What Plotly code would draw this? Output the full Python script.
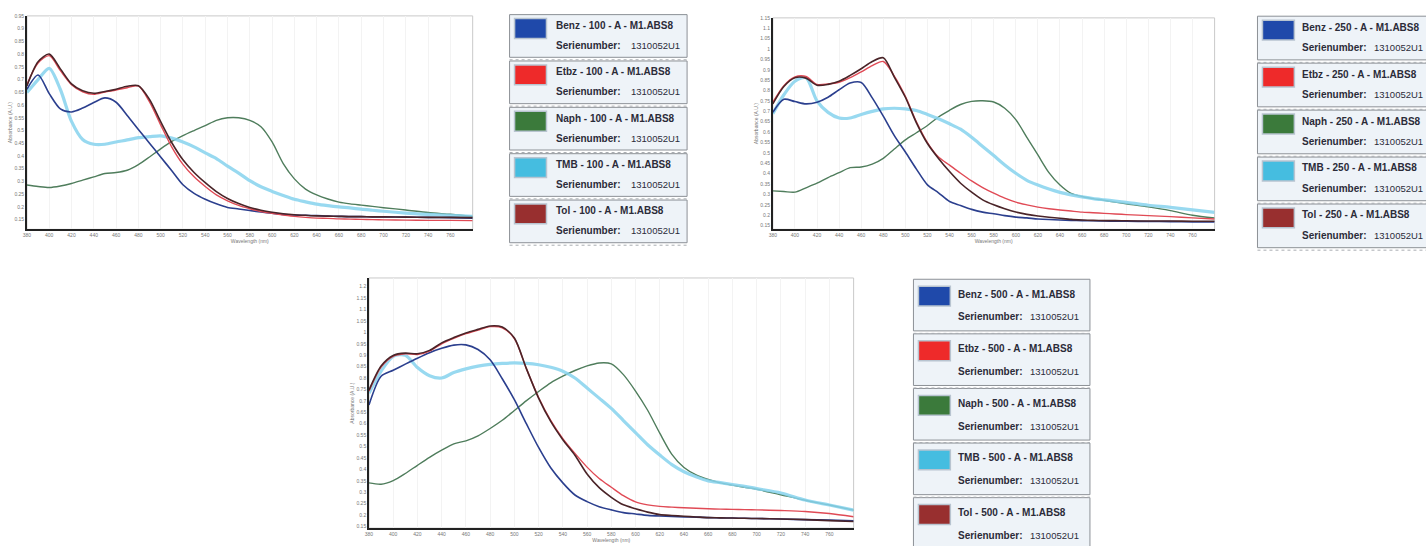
import plotly.graph_objects as go

# ---------------- data ----------------
wavelength = [380, 390, 400, 410, 420, 430, 440, 450, 460, 470, 480, 490, 500, 510, 520,
              530, 540, 550, 560, 570, 580, 590, 600, 610, 620, 630, 640, 650, 660, 670,
              680, 690, 700, 720, 740, 760, 780]

substances = ["Benz", "Etbz", "Naph", "TMB", "Tol"]
concentrations = ["100", "250", "500"]
serial_number = "1310052U1"

benz_100 = [0.662, 0.718, 0.645, 0.585, 0.573, 0.588, 0.61, 0.628, 0.611, 0.559, 0.504, 0.45, 0.396, 0.342, 0.287,
            0.253, 0.23, 0.212, 0.198, 0.192, 0.186, 0.18, 0.175, 0.17, 0.168, 0.167, 0.166, 0.164, 0.163, 0.162,
            0.162, 0.161, 0.161, 0.160, 0.159, 0.158, 0.156]
etbz_100 = [0.681, 0.765, 0.794, 0.735, 0.68, 0.652, 0.642, 0.651, 0.659, 0.668, 0.675, 0.612, 0.522, 0.435, 0.367,
            0.318, 0.28, 0.247, 0.224, 0.206, 0.193, 0.182, 0.175, 0.168, 0.163, 0.159, 0.156, 0.155, 0.153, 0.152,
            0.151, 0.150, 0.149, 0.148, 0.147, 0.147, 0.146]
naph_100 = [0.286, 0.28, 0.276, 0.282, 0.292, 0.305, 0.318, 0.331, 0.335, 0.344, 0.366, 0.396, 0.428, 0.457, 0.48,
            0.5, 0.519, 0.54, 0.55, 0.55, 0.54, 0.515, 0.455, 0.37, 0.31, 0.27, 0.247, 0.231, 0.219, 0.212,
            0.207, 0.202, 0.197, 0.188, 0.178, 0.171, 0.163]
tmb_100 = [0.649, 0.7, 0.744, 0.661, 0.536, 0.465, 0.446, 0.446, 0.455, 0.463, 0.472, 0.476, 0.479, 0.47, 0.455,
           0.436, 0.412, 0.39, 0.36, 0.333, 0.303, 0.279, 0.261, 0.245, 0.23, 0.22, 0.211, 0.205, 0.2, 0.196,
           0.191, 0.187, 0.183, 0.176, 0.171, 0.167, 0.163]
tol_100 = [0.675, 0.77, 0.80, 0.742, 0.683, 0.656, 0.646, 0.653, 0.662, 0.674, 0.676, 0.622, 0.535, 0.452, 0.385,
           0.335, 0.295, 0.26, 0.233, 0.213, 0.198, 0.187, 0.179, 0.173, 0.169, 0.167, 0.165, 0.164, 0.163, 0.162,
           0.162, 0.161, 0.161, 0.160, 0.159, 0.159, 0.158]

benz_250 = [0.696, 0.758, 0.747, 0.736, 0.744, 0.768, 0.804, 0.836, 0.839, 0.765, 0.677, 0.583, 0.504, 0.422, 0.346,
            0.308, 0.266, 0.247, 0.228, 0.215, 0.207, 0.198, 0.191, 0.187, 0.182, 0.179, 0.177, 0.175, 0.174, 0.173,
            0.172, 0.171, 0.171, 0.170, 0.169, 0.168, 0.168]
etbz_250 = [0.744, 0.824, 0.866, 0.868, 0.83, 0.832, 0.84, 0.862, 0.89, 0.92, 0.94, 0.87, 0.772, 0.65, 0.55,
            0.48, 0.441, 0.402, 0.365, 0.333, 0.306, 0.282, 0.263, 0.25, 0.239, 0.231, 0.225, 0.22, 0.215, 0.212,
            0.209, 0.206, 0.203, 0.198, 0.193, 0.187, 0.182]
naph_250 = [0.317, 0.314, 0.311, 0.332, 0.354, 0.381, 0.405, 0.429, 0.432, 0.446, 0.474, 0.519, 0.563, 0.597, 0.632,
            0.673, 0.705, 0.733, 0.748, 0.751, 0.745, 0.715, 0.66, 0.575, 0.49, 0.405, 0.345, 0.305, 0.29, 0.28,
            0.272, 0.263, 0.255, 0.24, 0.222, 0.2, 0.187]
tmb_250 = [0.688, 0.78, 0.845, 0.862, 0.75, 0.695, 0.668, 0.668, 0.685, 0.70, 0.712, 0.715, 0.712, 0.704, 0.685,
           0.664, 0.64, 0.614, 0.575, 0.531, 0.487, 0.442, 0.402, 0.368, 0.345, 0.326, 0.31, 0.298, 0.288, 0.28,
           0.274, 0.268, 0.262, 0.248, 0.238, 0.226, 0.214]
tol_250 = [0.736, 0.82, 0.862, 0.86, 0.826, 0.83, 0.845, 0.873, 0.905, 0.94, 0.958, 0.865, 0.768, 0.645, 0.545,
           0.473, 0.41, 0.354, 0.311, 0.274, 0.25, 0.231, 0.215, 0.204, 0.196, 0.19, 0.185, 0.18, 0.177, 0.175,
           0.174, 0.174, 0.173, 0.172, 0.172, 0.171, 0.171]

benz_500 = [0.682, 0.808, 0.834, 0.861, 0.887, 0.911, 0.93, 0.944, 0.945, 0.925, 0.88, 0.797, 0.705, 0.599, 0.496,
            0.407, 0.341, 0.288, 0.259, 0.237, 0.223, 0.211, 0.205, 0.199, 0.196, 0.194, 0.192, 0.191, 0.189, 0.188,
            0.187, 0.186, 0.185, 0.183, 0.18, 0.178, 0.175]
etbz_500 = [0.742, 0.848, 0.895, 0.906, 0.903, 0.918, 0.95, 0.974, 0.994, 1.01, 1.025, 1.02, 0.973, 0.84, 0.715,
            0.615, 0.535, 0.47, 0.41, 0.36, 0.322, 0.285, 0.258, 0.245, 0.238, 0.235, 0.232, 0.23, 0.228, 0.226,
            0.225, 0.224, 0.223, 0.22, 0.216, 0.207, 0.193]
naph_500 = [0.341, 0.335, 0.351, 0.382, 0.418, 0.453, 0.484, 0.512, 0.525, 0.547, 0.579, 0.615, 0.658, 0.701, 0.741,
            0.779, 0.808, 0.833, 0.853, 0.866, 0.862, 0.815, 0.743, 0.659, 0.559, 0.466, 0.408, 0.376, 0.356, 0.341,
            0.331, 0.322, 0.313, 0.289, 0.265, 0.244, 0.222]
tmb_500 = [0.733, 0.83, 0.895, 0.9, 0.846, 0.81, 0.8, 0.824, 0.84, 0.852, 0.86, 0.864, 0.866, 0.864, 0.858,
           0.847, 0.83, 0.8, 0.756, 0.712, 0.667, 0.614, 0.561, 0.508, 0.463, 0.421, 0.39, 0.368, 0.35, 0.342,
           0.334, 0.326, 0.316, 0.297, 0.266, 0.244, 0.222]
tol_500 = [0.747, 0.853, 0.899, 0.909, 0.906, 0.921, 0.954, 0.977, 0.997, 1.013, 1.028, 1.023, 0.975, 0.84, 0.712,
           0.61, 0.53, 0.462, 0.38, 0.32, 0.278, 0.245, 0.228, 0.213, 0.202, 0.198, 0.195, 0.192, 0.189, 0.188,
           0.187, 0.186, 0.185, 0.183, 0.18, 0.176, 0.172]

x_tick_labels = [380, 400, 420, 440, 460, 480, 500, 520, 540, 560, 580, 600, 620, 640, 660, 680, 700, 720, 740, 760]
y_ticks_100 = [0.15, 0.2, 0.25, 0.3, 0.35, 0.4, 0.45, 0.5, 0.55, 0.6, 0.65, 0.7, 0.75, 0.8, 0.85, 0.9, 0.95]
y_ticks_250 = [0.15, 0.2, 0.25, 0.3, 0.35, 0.4, 0.45, 0.5, 0.55, 0.6, 0.65, 0.7, 0.75, 0.8, 0.85, 0.9, 0.95,
               1, 1.05, 1.1, 1.15]
y_ticks_500 = [0.15, 0.2, 0.25, 0.3, 0.35, 0.4, 0.45, 0.5, 0.55, 0.6, 0.65, 0.7, 0.75, 0.8, 0.85, 0.9, 0.95,
               1, 1.05, 1.1, 1.15, 1.2]

series = {
    "100": [benz_100, etbz_100, naph_100, tmb_100, tol_100],
    "250": [benz_250, etbz_250, naph_250, tmb_250, tol_250],
    "500": [benz_500, etbz_500, naph_500, tmb_500, tol_500],
}

# ---------------- styles ----------------
line_colors = ["#2b3f8e", "#e04a55", "#4f7d5c", "#86d3ee", "#4a2428"]
line_widths = [1.6, 1.4, 1.4, 3.2, 1.6]
swatch_colors = ["#1f49aa", "#ee2a2a", "#3b7a3b", "#45bde0", "#982f2f"]
draw_order = [2, 3, 0, 1, 4]

W, H = 1426, 546


def px(x):
    return x / W


def py(y):
    return 1 - y / H


panels = [
    # conc, axis suffix, x px range, y px range (top, bottom), y range, y ticks
    ("100", "", (23, 470), (13, 228), (0.112, 0.95), y_ticks_100),
    ("250", "2", (771, 1214), (15, 228), (0.132, 1.15), y_ticks_250),
    ("500", "3", (366, 852), (277, 529), (0.143, 1.238), y_ticks_500),
]

legends = [
    dict(l=507, r=685, top=11.7, step=46.7, h=43, name_dy=11, ser_dy=31, sw_x=512, tx=552, vx=627),
    dict(l=1257, r=1432, top=13.3, step=47.3, h=44, name_dy=11, ser_dy=32, sw_x=1262, tx=1300, vx=1372),
    dict(l=912, r=1089, top=278.3, step=55.0, h=52, name_dy=15, ser_dy=38, sw_x=917, tx=955, vx=1027),
]

fig = go.Figure()
layout = dict(
    width=W, height=H,
    margin=dict(l=0, r=0, t=0, b=0),
    paper_bgcolor="white",
    plot_bgcolor="white",
    showlegend=False,
    font=dict(family="Liberation Sans", color="#333"),
)
shapes = []
annotations = []

for (conc, sfx, (x0, x1), (yt, yb), yr, yticks) in panels:
    xa = "x" + sfx
    ya = "y" + sfx
    for i in draw_order:
        fig.add_trace(go.Scatter(
            x=wavelength, y=series[conc][i],
            mode="lines",
            line=dict(color=line_colors[i], width=line_widths[i], shape="spline", smoothing=0.8),
            opacity=0.85 if i == 3 else 1.0,
            name=f"{substances[i]} - {conc} - A - M1.ABS8",
            xaxis=xa, yaxis=ya,
        ))
    layout["xaxis" + sfx] = dict(
        domain=[px(x0), px(x1)], anchor=ya, range=[380, 780],
        tickvals=x_tick_labels, ticktext=[str(v) for v in x_tick_labels],
        tickfont=dict(size=5, color="#777"),
        showline=True, linecolor="#222", linewidth=1.6,
        showgrid=True, gridcolor="#f3f3f3", gridwidth=1,
        zeroline=False, ticks="",
        title=dict(text="Wavelength (nm)", font=dict(size=5, color="#777"), standoff=2),
    )
    layout["yaxis" + sfx] = dict(
        domain=[py(yb), py(yt)], anchor=xa, range=list(yr),
        tickvals=yticks, ticktext=[f"{v:g}" for v in yticks],
        tickfont=dict(size=5, color="#777"),
        showline=True, linecolor="#222", linewidth=1.6,
        showgrid=False, zeroline=False, ticks="",
        title=dict(text="Absorbance (A.U.)", font=dict(size=5, color="#777"), standoff=2),
    )
    shapes.append(dict(type="rect", xref=xa + " domain", yref=ya + " domain",
                       x0=0, x1=1, y0=0, y1=1, line=dict(color="#c9c9c9", width=1), layer="below"))

for conc, lg in zip(concentrations, legends):
    for i, sub in enumerate(substances):
        top = lg["top"] + i * lg["step"]
        bot = top + lg["h"]
        shapes.append(dict(type="rect", xref="paper", yref="paper",
                           x0=px(lg["l"]), x1=px(lg["r"]), y0=py(bot), y1=py(top),
                           fillcolor="#eef3f8", line=dict(color="#8c9096", width=1), layer="below"))
        shapes.append(dict(type="line", xref="paper", yref="paper",
                           x0=px(lg["l"]), x1=px(lg["r"]), y0=py(bot + 2.5), y1=py(bot + 2.5),
                           line=dict(color="#a9adb2", width=1, dash="dot")))
        sw_top = top + (4 if lg["h"] < 50 else 7)
        shapes.append(dict(type="rect", xref="paper", yref="paper",
                           x0=px(lg["sw_x"]), x1=px(lg["sw_x"] + 32), y0=py(sw_top + 20), y1=py(sw_top),
                           fillcolor=swatch_colors[i], line=dict(color="#b8c4d0", width=1.5)))
        annotations.append(dict(xref="paper", yref="paper", x=px(lg["tx"]), y=py(top + lg["name_dy"]),
                                text=f"<b>{sub} - {conc} - A - M1.ABS8</b>", showarrow=False,
                                xanchor="left", yanchor="middle",
                                font=dict(family="Liberation Sans", size=10, color="#2b2b38")))
        annotations.append(dict(xref="paper", yref="paper", x=px(lg["tx"]), y=py(top + lg["ser_dy"]),
                                text="<b>Serienumber:</b>", showarrow=False,
                                xanchor="left", yanchor="middle",
                                font=dict(family="Liberation Sans", size=10, color="#2b2b38")))
        annotations.append(dict(xref="paper", yref="paper", x=px(lg["vx"]), y=py(top + lg["ser_dy"]),
                                text=serial_number, showarrow=False,
                                xanchor="left", yanchor="middle",
                                font=dict(family="Liberation Sans", size=9.5, color="#2b2b38")))

layout["shapes"] = shapes
layout["annotations"] = annotations
fig.update_layout(**layout)
fig.write_html("out.html", config={"displayModeBar": False},
               post_script="document.body.style.margin='0';document.body.style.overflow='hidden';")
